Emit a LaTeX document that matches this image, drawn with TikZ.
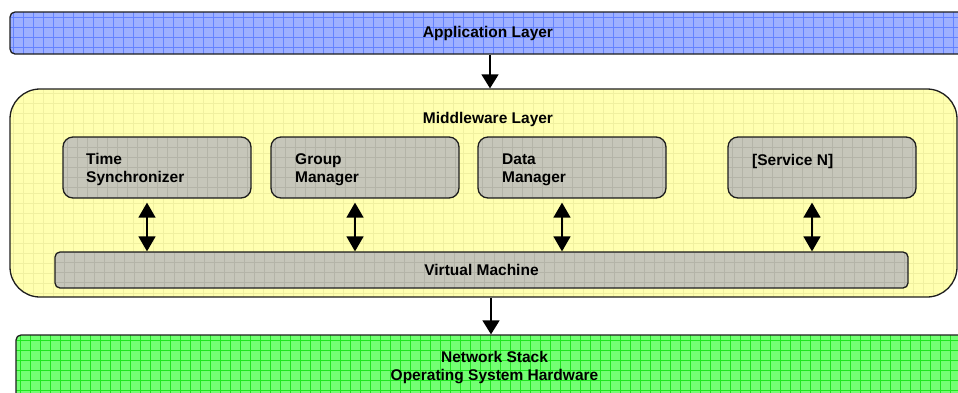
\documentclass[tikz,border=0pt]{standalone}
\usepackage{fontspec}
\setmainfont{Liberation Sans}
\usetikzlibrary{arrows.meta}
\definecolor{bluefill}{RGB}{158,176,255}
\definecolor{blueline}{RGB}{100,130,255}
\definecolor{yelfill}{RGB}{255,255,176}
\definecolor{yelline}{RGB}{240,240,160}
\definecolor{grayfill}{RGB}{198,198,186}
\definecolor{grayline}{RGB}{180,180,168}
\definecolor{greenfill}{RGB}{115,255,115}
\definecolor{greenline}{RGB}{30,230,30}
\definecolor{edge}{RGB}{30,30,30}
\tikzset{
  gridbox/.style 2 args={draw=edge, line width=1.3pt, fill=#1,
    path picture={\draw[#2, line width=0.6pt]
      ([shift={(-10pt,10pt)}]path picture bounding box.north west) grid[step=10pt]
      ([shift={(10pt,-10pt)}]path picture bounding box.south east);}},
  layerbox/.style={rectangle, rounded corners=5pt, inner sep=0pt, align=center,
    font=\bfseries\fontsize{15.5}{18}\selectfont},
  svcbox/.style={rectangle, rounded corners=10pt, inner sep=0pt,
    minimum width=188pt, minimum height=61pt, gridbox={grayfill}{grayline}},
  svctext/.style={anchor=west, inner sep=0pt, align=left,
    font=\bfseries\fontsize{15.5}{18}\selectfont},
  flow/.style={draw=black, line width=1.6pt, -{Triangle[length=14pt,width=17pt]}},
  dbl/.style={draw=black, line width=1.6pt,
    {Triangle[length=15pt,width=17pt]}-{Triangle[length=15pt,width=17pt]}}
}
\begin{document}
\begin{tikzpicture}[x=1pt,y=-1pt]
\clip (0,0) rectangle (958,392);
\useasboundingbox (0,0) rectangle (958,392);
% application layer
\node[layerbox, minimum width=956pt, minimum height=42pt, gridbox={bluefill}{blueline}]
  (app) at (488,33) {Application Layer};
% middleware
\node[layerbox, rounded corners=30pt, minimum width=947pt, minimum height=208pt,
  gridbox={yelfill}{yelline}] (mw) at (483.5,193) {};
\node[layerbox] (mwt) at (488,119) {Middleware Layer};
% services
\node[svcbox] (ts) at (157,167.5) {};
\node[svcbox] (gm) at (365,167.5) {};
\node[svcbox] (dm) at (572,167.5) {};
\node[svcbox] (sn) at (822,167.5) {};
\node[svctext] (tst) at (86,169.5) {Time\\Synchronizer};
\node[svctext] (gmt) at (295,169.5) {Group\\Manager};
\node[svctext] (dmt) at (502,169.5) {Data\\Manager};
\node[svctext] (snt) at (752,161.5) {[Service N]};
% virtual machine
\node[layerbox, minimum width=853pt, minimum height=36pt, gridbox={grayfill}{grayline}]
  (vm) at (481.5,270) {\raisebox{-3pt}{Virtual Machine}};
% network
\node[layerbox, minimum width=957pt, minimum height=65pt, gridbox={greenfill}{greenline}]
  (net) at (494.5,367.5) {Network Stack\\Operating System Hardware};
% connectors
\draw[flow] ([xshift=2pt]app.south) -- ([xshift=2pt]app.south |- mw.north);
\draw[flow] ([xshift=7.5pt]mw.south) -- ([xshift=7.5pt]mw.south |- net.north);
\foreach \s in {ts,gm,dm,sn}{
  \draw[dbl] ([xshift=-10pt,yshift=-4pt]\s.south) -- ([xshift=-10pt]\s.south |- vm.north);
}
\end{tikzpicture}
\end{document}
